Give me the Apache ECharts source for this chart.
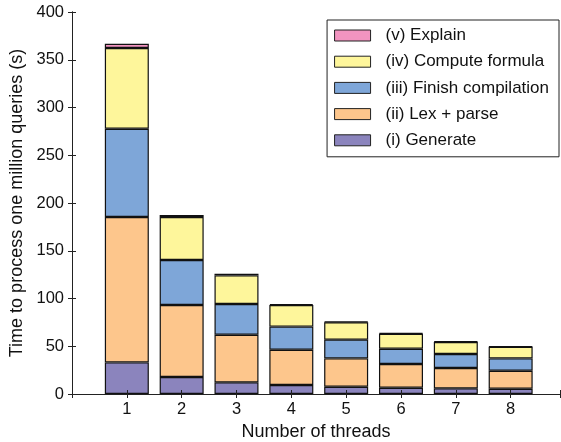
<!DOCTYPE html>
<html><head><meta charset="utf-8">
<script src="https://cdn.jsdelivr.net/npm/echarts@6/dist/echarts.min.js"></script>
<style>html,body{margin:0;padding:0;background:#fff}#c{width:561px;height:442px}</style>
</head><body><div id="c"></div>
<script>
const threads = ['1', '2', '3', '4', '5', '6', '7', '8'];
const generate = [33.1, 17.8, 12.2, 9.4, 7.6, 6.6, 5.9, 5.5];
const lexParse = [152.2, 75.4, 49.9, 37.0, 29.7, 24.8, 21.3, 18.9];
const finishCompilation = [92.5, 47.1, 32.1, 24.2, 19.6, 16.0, 14.7, 12.9];
const computeFormula = [84.5, 45.0, 30.0, 22.5, 18.3, 15.7, 12.5, 12.0];
const explain = [4.5, 2.1, 1.8, 1.2, 0.8, 0.8, 0.7, 0.5];
const yTicks = [0, 50, 100, 150, 200, 250, 300, 350, 400];

const seriesDefs = [
  {name: '(i) Generate', data: generate, color: '#8b84bd'},
  {name: '(ii) Lex + parse', data: lexParse, color: '#fdc68c'},
  {name: '(iii) Finish compilation', data: finishCompilation, color: '#7ea6d8'},
  {name: '(iv) Compute formula', data: computeFormula, color: '#fef69b'},
  {name: '(v) Explain', data: explain, color: '#f294c0'}
];
const font = '"Liberation Sans", Arial, Helvetica, sans-serif';
const X_MAX = 8.9;
const gridLeft = 72, gridRight = 1, W = 561;
const unit = (W - gridLeft - gridRight) / X_MAX;
const chart = echarts.init(document.getElementById('c'), null, {renderer: 'canvas'});
const tickStyle = {color: '#222', width: 1};
chart.setOption({
  animation: false,
  backgroundColor: '#fff',
  textStyle: {fontFamily: font},
  grid: [
    {left: gridLeft, right: gridRight, top: 12, bottom: 48, containLabel: false, outerBoundsMode: 'none'},
    {left: gridLeft + unit * 0.5, right: W - (gridLeft + unit * 8.5), top: 12, bottom: 48, containLabel: false, outerBoundsMode: 'none'}
  ],
  legend: {
    data: seriesDefs.slice().reverse().map(s => s.name),
    orient: 'vertical', right: 2, top: 20,
    icon: 'rect',
    itemWidth: 36, itemHeight: 11, itemGap: 9.2,
    padding: [7, 10, 8, 7],
    backgroundColor: '#fff', borderColor: '#222', borderWidth: 1,
    textStyle: {fontFamily: font, fontSize: 17, color: '#111', padding: [0, 0, 0, 10], lineHeight: 16},
    itemStyle: {borderColor: '#222', borderWidth: 1}
  },
  xAxis: [{
    gridIndex: 0, type: 'value', min: 0, max: X_MAX, interval: 1, z: 10,
    name: 'Number of threads', nameLocation: 'middle', nameGap: 27,
    nameTextStyle: {fontFamily: font, fontSize: 18, color: '#111'},
    axisLine: {onZero: false, lineStyle: tickStyle},
    axisTick: {inside: true, length: 4, lineStyle: tickStyle},
    splitLine: {show: false},
    axisLabel: {fontFamily: font, fontSize: 16.5, color: '#111', margin: 7,
      formatter: v => (threads.indexOf(String(v)) >= 0 ? String(v) : '')}
  }, {
    gridIndex: 0, type: 'value', position: 'top', min: 0, max: X_MAX, interval: 1, z: 10,
    axisLine: {lineStyle: tickStyle},
    axisTick: {inside: true, length: 4, lineStyle: tickStyle},
    axisLabel: {show: false}, splitLine: {show: false}
  }, {
    gridIndex: 1, type: 'category', data: threads, boundaryGap: true,
    show: false
  }],
  yAxis: [{
    gridIndex: 0, type: 'value', min: 0, max: 400, interval: 50, z: 10,
    name: 'Time to process one million queries (s)', nameLocation: 'middle', nameGap: 45,
    nameTextStyle: {fontFamily: font, fontSize: 18, color: '#111'},
    axisLine: {show: true, lineStyle: tickStyle},
    axisTick: {show: true, inside: true, length: 4, lineStyle: tickStyle},
    splitLine: {show: false},
    axisLabel: {fontFamily: font, fontSize: 16.5, color: '#111', margin: 8,
      formatter: v => (yTicks.indexOf(v) >= 0 ? String(v) : '')}
  }, {
    gridIndex: 0, type: 'value', position: 'right', min: 0, max: 400, interval: 50, z: 10,
    axisLine: {show: true, lineStyle: tickStyle},
    axisTick: {show: true, inside: true, length: 4, lineStyle: tickStyle},
    axisLabel: {show: false}, splitLine: {show: false}
  }, {
    gridIndex: 1, type: 'value', min: 0, max: 400, show: false, splitLine: {show: false}
  }],
  series: seriesDefs.map(s => ({
    name: s.name, type: 'bar', stack: 'total', barWidth: 44,
    xAxisIndex: 2, yAxisIndex: 2,
    itemStyle: {color: s.color, borderColor: '#111', borderWidth: 1.2},
    data: s.data
  }))
});
</script></body></html>
